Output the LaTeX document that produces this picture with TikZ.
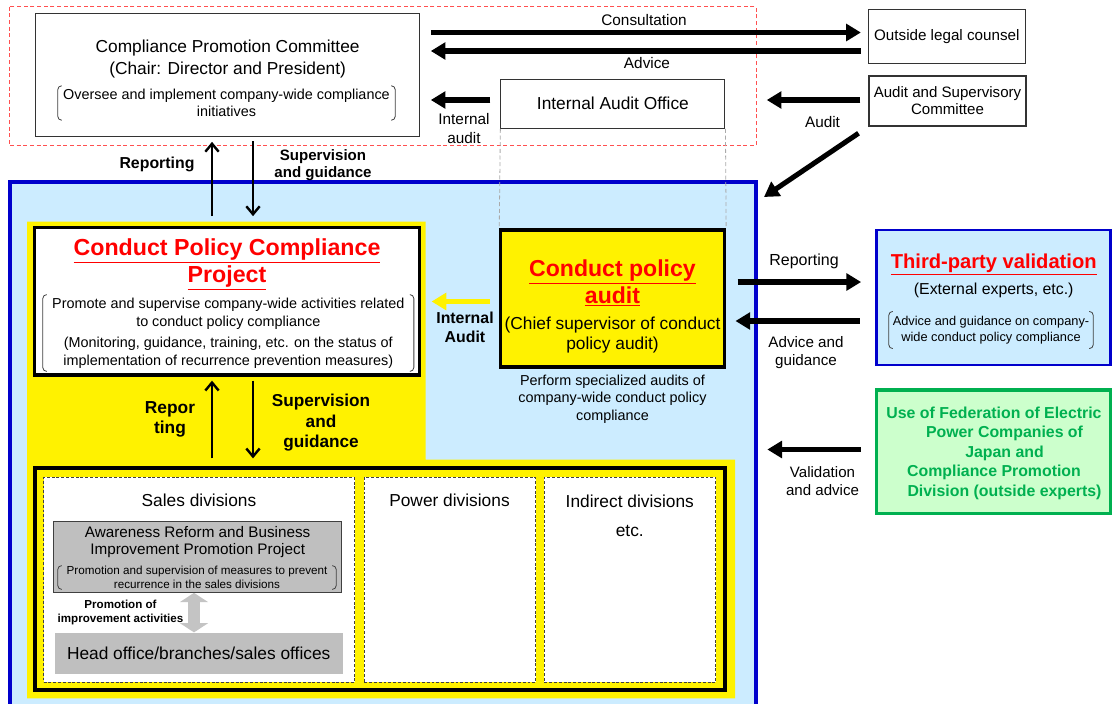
\documentclass[tikz,border=0pt]{standalone}
\usepackage{fontspec}
\setmainfont{Liberation Sans}
\usepackage{tikz}
\usetikzlibrary{arrows.meta}
\definecolor{PanelBlue}{RGB}{204,236,255}
\definecolor{FrameBlue}{RGB}{0,0,204}
\definecolor{ZoneRed}{RGB}{255,80,80}
\definecolor{TitleRed}{RGB}{255,0,0}
\definecolor{FepcGreen}{RGB}{0,176,80}
\definecolor{FepcFill}{RGB}{204,255,204}
\definecolor{BoxGrey}{RGB}{191,191,191}
\definecolor{ArrowGrey}{RGB}{196,196,196}
\definecolor{GuideGrey}{RGB}{170,170,170}
\newcommand{\redtitle}[1]{\textcolor{TitleRed}{\underline{#1}}}
\newcommand{\brackets}[1]{%
   \draw[brk] ([xshift=3pt]#1.north west) to[out=180,in=90] ([yshift=-3pt]#1.north west)
      -- ([yshift=3pt]#1.south west) to[out=-90,in=180] ([xshift=3pt]#1.south west);
   \draw[brk] ([xshift=-3pt]#1.north east) to[out=0,in=90] ([yshift=-3pt]#1.north east)
      -- ([yshift=3pt]#1.south east) to[out=-90,in=0] ([xshift=-3pt]#1.south east);}

\begin{document}
\begin{tikzpicture}[x=0.75pt,y=-0.75pt,
  span/.style 2 args={minimum width=#1*0.75pt,minimum height=#2*0.75pt},
  blk/.style n args={3}{#1,rectangle,inner sep=0pt,span={#2}{#3}},
  txt/.style 2 args={font=\fontsize{#1}{#2}\selectfont,align=center,inner sep=0pt},
  txtb/.style 2 args={txt={#1}{#2},font=\fontsize{#1}{#2}\selectfont\bfseries},
  brk/.style={line width=0.6pt,draw=black!75},
  fat/.style={line width=3.8pt,-{Triangle[length=11pt,width=12.5pt]}},
  barb/.style={line width=1.8pt,-{Straight Barb[length=6pt,width=10pt]}},
  dbl/.style={draw=ArrowGrey,line width=9pt,{Triangle[length=7pt,width=21pt]}-{Triangle[length=7pt,width=21pt]}},
  guide/.style={draw=GuideGrey,line width=0.6pt,dash pattern=on 3pt off 2pt},
  divbox/.style={draw=black!75,fill=white,line width=0.8pt,dash pattern=on 2.2pt off 1.4pt}]
\useasboundingbox (0,0) rectangle (1112,703);
\clip (0,0) rectangle (1112,703);
\draw[ZoneRed,line width=0.75pt,dash pattern=on 3pt off 2pt] (9,6.7) rectangle (756,145.7);
\node[blk={draw=FrameBlue,fill=PanelBlue,line width=3pt}{746}{538}](panel) at(383,451) {};
\fill[yellow] (27,221.7) -- (425.7,221.7) -- (425.7,459.5) -- (735,459.5) -- (735,698.3) -- (27,698.3) -- cycle;

\node[blk={draw=black!80,fill=white,line width=0.8pt}{384}{122.7}](cpc) at(227.6,75.3) {};
\node[txt={13}{16.5}](cpcname) at(227.6,59) {Compliance Promotion Committee\\(Chair: Director and President)};
\node[txt={10.8}{12.75},span={337}{34}](cpcnote) at(226.5,103) {Oversee and implement company-wide compliance\\initiatives};
\brackets{cpcnote}
\node[blk={draw=black!80,fill=white,line width=0.8pt}{157.5}{54},txt={11.4}{13}](olc) at(946.8,36.3) {Outside legal counsel};
\node[blk={draw=black!80,fill=white,line width=0.8pt}{157}{50},txt={11.3}{12.75}](asc) at(947.5,101) {Audit and Supervisory\\Committee};
\node[blk={draw=black!80,fill=white,line width=0.8pt}{224}{49},txt={13}{15}](iao) at(612.9,103.8) {Internal Audit Office};

\node[blk={draw,fill=white,line width=2.4pt}{385}{147.3}](cpp) at(227.1,301.4) {};
\node[txtb={17.4}{20}](cpptitle) at(227,264.5) {\redtitle{Conduct Policy Compliance}\\\redtitle{Project}};
\node[txt={10.8}{13.3},span={370.6}{76.3}](cppnote) at(228.3,333) {Promote and supervise company-wide activities related\\to conduct policy compliance\\[2.7pt](Monitoring, guidance, training, etc. on the status of\\implementation of recurrence prevention measures)};
\brackets{cppnote}

\node[blk={draw,fill=yellow,line width=2.4pt}{223.7}{137}](cpa) at(612.7,298.5) {};
\node[txtb={17.3}{20}](cpatitle) at(612.5,283) {\redtitle{Conduct policy}\\\redtitle{audit}};
\node[txt={13}{15}](cpachief) at(612.5,335.3) {(Chief supervisor of conduct\\policy audit)};
\node[txt={10.8}{13.1}](cpanote) at(612.5,399) {Perform specialized audits of\\company-wide conduct policy\\compliance};

\node[blk={draw=FrameBlue,fill=PanelBlue,line width=2.2pt}{234}{135}](tpv) at(993.7,297.5) {};
\node[txtb={15.1}{18}](tpvtitle) at(993.7,264.5) {\redtitle{Third-party validation}};
\node[txt={11.9}{14}](tpvsub) at(993.7,290) {(External experts, etc.)};
\node[txt={9.6}{12.2},span={204}{36.7}](tpvnote) at(991,330) {Advice and guidance on company-\\wide conduct policy compliance};
\brackets{tpvnote}

\node[blk={draw=FepcGreen,fill=FepcFill,line width=2.4pt}{234}{123.3}](fepc) at(993.7,451.7) {};
\node[txtb={11.9}{14.6},text=FepcGreen](fepctxt) at(994,453.2) {Use of Federation of Electric\\\hspace*{15.75pt}Power Companies of\\\hspace*{15.75pt}Japan and\\Compliance Promotion\\\hspace*{15.75pt}Division (outside experts)};

\node[blk={draw,fill=yellow,line width=3pt}{690.4}{221.7}](divs) at(379.8,579.2) {};
\node[blk={divbox}{311}{205}](sales) at(199.1,579.8) {};
\node[blk={divbox}{171.2}{205}](power) at(449.9,579.8) {};
\node[blk={divbox}{171.5}{205}](indirect) at(630.2,579.8) {};
\node[txt={13}{15}](salesname) at(199,500) {Sales divisions};
\node[txt={13}{15}](powername) at(449.5,500) {Power divisions};
\node[txt={13}{22}](indname) at(629.8,516) {Indirect divisions\\etc.};
\node[blk={draw=black!75,fill=BoxGrey,line width=0.8pt}{288.2}{70.6}](arbp) at(197.7,557) {};
\node[txt={11.45}{13}](arbpname) at(197.7,542.3) {Awareness Reform and Business\\Improvement Promotion Project};
\node[txt={8.75}{10.2},span={278}{23.3}](arbpnote) at(197,577.5) {Promotion and supervision of measures to prevent\\recurrence in the sales divisions};
\brackets{arbpnote}
\node[blk={fill=BoxGrey}{288.3}{41.3},txt={13}{15}](hq) at(198.7,653.3) {Head office/branches/sales offices};
\node[txtb={8.7}{11}](promo) at(120.5,612.5) {Promotion of\\improvement activities};

\node[txt={11.5}{13}](consult) at(644,20) {Consultation};
\node[txt={11.5}{13}](advice) at(647,63) {Advice};
\node[txt={11.5}{14.25}](intaudit) at(464,128.5) {Internal\\audit};
\node[txt={11.5}{13}](audit) at(822.5,122.5) {Audit};
\node[txtb={11.9}{13}](rep1) at(157,164) {Reporting};
\node[txtb={11.3}{12.75}](sup1) at(323,165) {Supervision\\and guidance};
\node[txtb={11.9}{14.25}](intaudit2) at(465,327.5) {Internal\\Audit};
\node[txt={12}{13}](rep3) at(804,261.5) {Reporting};
\node[txt={11.4}{13.3}](advguid) at(806,352.5) {Advice and\\guidance};
\node[txt={11.3}{13}](valid) at(822.5,481) {Validation\\and advice};
\node[txtb={13}{15.2}](rep2) at(170,419) {Repor\\ting};
\node[txtb={12.9}{15.3}](sup2) at(321,422.8) {Supervision\\and\\guidance};

\draw[guide] (iao.south west) -- (cpa.north west);
\draw[guide] (iao.south east) -- (cpa.north east);
\draw[fat,shorten <=8pt,shorten >=5pt] (cpc.east |- 0,32.5) -- (olc.west |- 0,32.5);
\draw[fat,shorten <=5pt,shorten >=8pt] (olc.west |- 0,51) -- (cpc.east |- 0,51);
\draw[fat,shorten <=7.5pt,shorten >=8pt] (iao.west |- 0,100) -- (cpc.east |- 0,100);
\draw[fat,shorten <=6pt,shorten >=31pt] (asc.west |- 0,100) -- (iao.east |- 0,100);
\coordinate (auditin) at(764,197);
\draw[fat,shorten <=9pt] (asc.south west) -- (auditin);
\draw[barb,shorten <=7.5pt,shorten >=3.5pt] (212,0 |- cpp.north) -- (212,0 |- cpc.south);
\draw[barb,shorten <=3pt,shorten >=7.5pt] (253,0 |- cpc.south) -- (253,0 |- cpp.north);
\draw[barb,shorten <=6pt,shorten >=3pt] (212,0 |- divs.north) -- (212,0 |- cpp.south);
\draw[barb,shorten <=3pt,shorten >=6pt] (253,0 |- cpp.south) -- (253,0 |- divs.north);
\draw[fat,yellow,shorten <=7.3pt,shorten >=7.8pt] (cpa.west |- 0,301.5) -- (cpp.east |- 0,301.5);
\draw[fat,shorten <=8.6pt,shorten >=10.6pt] (cpa.east |- 0,282) -- (tpv.west |- 0,282);
\draw[fat,shorten <=11.8pt,shorten >=7pt] (tpv.west |- 0,321) -- (cpa.east |- 0,321);
\draw[fat,shorten <=10.6pt,shorten >=7pt] (fepc.west |- 0,449.5) -- (panel.east |- 0,449.5);
\draw[dbl] (194,0 |- arbp.south) -- (194,0 |- hq.north);
\end{tikzpicture}
\end{document}
